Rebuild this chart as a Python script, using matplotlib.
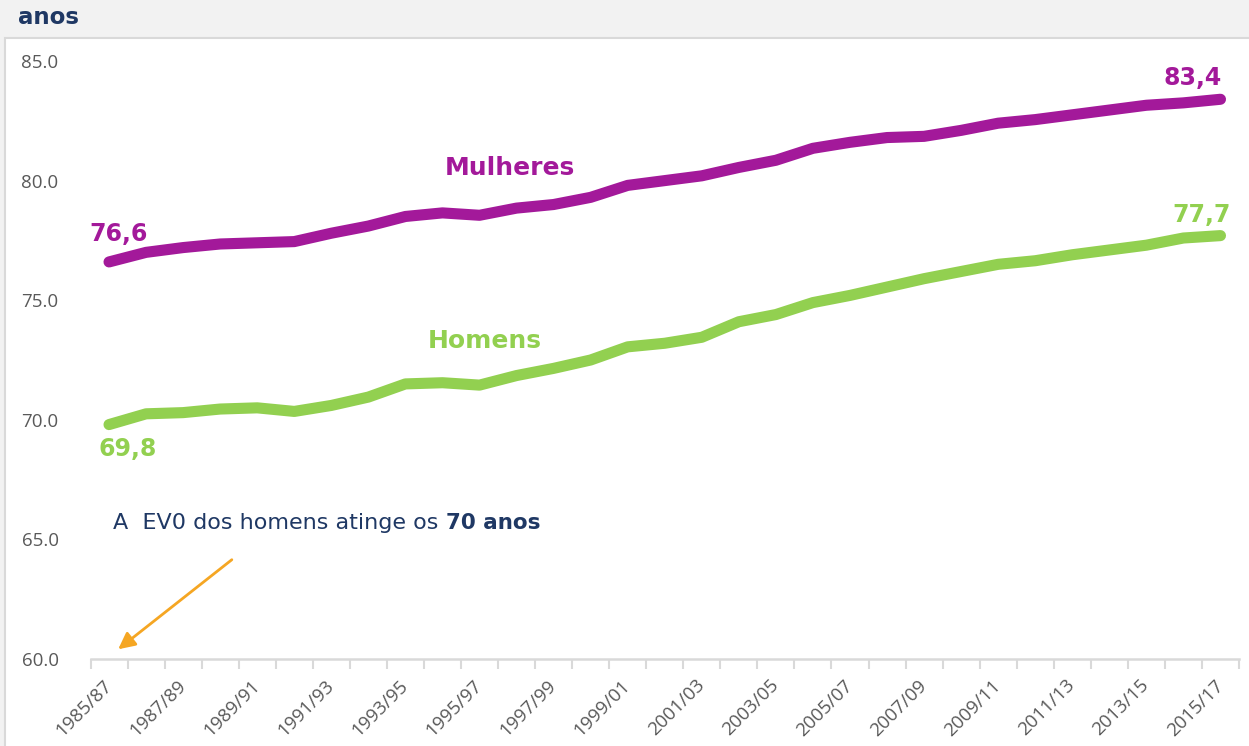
import matplotlib
matplotlib.use("Agg")
import matplotlib.pyplot as plt
from matplotlib.patches import Rectangle
import numpy as np

periods = ["1985/87", "1986/88", "1987/89", "1988/90", "1989/91", "1990/92", "1991/93",
           "1992/94", "1993/95", "1994/96", "1995/97", "1996/98", "1997/99", "1998/00",
           "1999/01", "2000/02", "2001/03", "2002/04", "2003/05", "2004/06", "2005/07",
           "2006/08", "2007/09", "2008/10", "2009/11", "2010/12", "2011/13", "2012/14",
           "2013/15", "2014/16", "2015/17"]
mulheres = [76.6, 77.0, 77.2, 77.35, 77.4, 77.45, 77.8, 78.1, 78.5, 78.65, 78.55,
            78.85, 79.0, 79.3, 79.8, 80.0, 80.2, 80.55, 80.85, 81.35, 81.6, 81.8,
            81.85, 82.1, 82.4, 82.55, 82.75, 82.95, 83.15, 83.25, 83.4]
homens = [69.8, 70.25, 70.3, 70.45, 70.5, 70.35, 70.6, 70.95, 71.5, 71.55, 71.45,
          71.85, 72.15, 72.5, 73.05, 73.2, 73.45, 74.1, 74.4, 74.9, 75.2, 75.55,
          75.9, 76.2, 76.5, 76.65, 76.9, 77.1, 77.3, 77.6, 77.7]
yticks = [60.0, 65.0, 70.0, 75.0, 80.0, 85.0]

W, H = 1249, 746
fig = plt.figure(figsize=(W / 100, H / 100), dpi=100, facecolor="#F2F2F2")

def fx(px):
    return px / W

def fy(py):
    return 1 - py / H

# white panel
fig.patches.append(Rectangle((fx(5), -0.01), 1, fy(38) + 0.01, transform=fig.transFigure,
                             facecolor="white", edgecolor="#D9D9D9", linewidth=1.5,
                             zorder=-5))

ax = fig.add_axes([fx(90.5), 1 - 659 / H, (1239 - 90.5) / W, (659 - 61) / H])
ax.set_facecolor("none")

x = np.arange(len(periods))
purple = "#A3199A"
green = "#92D050"
ax.plot(x, mulheres, color=purple, lw=8, solid_capstyle="round",
        solid_joinstyle="round", clip_on=False, zorder=3)
ax.plot(x, homens, color=green, lw=8, solid_capstyle="round",
        solid_joinstyle="round", clip_on=False, zorder=3)

ax.set_xlim(-0.5, len(periods) - 0.5)
ax.set_ylim(60, 85)

for s in ["top", "right", "left"]:
    ax.spines[s].set_visible(False)
ax.spines["bottom"].set_color("#D9D9D9")
ax.spines["bottom"].set_linewidth(1.8)

ax.set_xticks(x[::2])
ax.set_xticklabels(periods[::2], rotation=45, ha="right", va="center",
                   rotation_mode="anchor", fontsize=13.5, color="#595959",
                   family="Open Sans")
ax.set_xticks(np.arange(-0.5, len(periods), 1), minor=True)
ax.tick_params(axis="x", which="major", length=0, pad=17)
ax.tick_params(axis="x", which="minor", length=7, width=1.5, color="#D9D9D9")

ax.set_yticks(yticks)
ax.set_yticklabels([f"{v:.1f}" for v in yticks], fontsize=13.5, color="#595959",
                   family="Open Sans")
ax.tick_params(axis="y", length=0, pad=23)

# title
fig.text(fx(18), fy(17), "anos", fontsize=16.5, fontweight="bold", color="#1F3864",
         ha="left", va="center", family="DejaVu Sans")

# series labels
fig.text(fx(510), fy(168), "Mulheres", fontsize=18, fontweight="bold", color=purple,
         ha="center", va="center", family="DejaVu Sans")
fig.text(fx(485), fy(341), "Homens", fontsize=18, fontweight="bold", color=green,
         ha="center", va="center", family="DejaVu Sans")

# value labels
lbl = dict(fontsize=17, fontweight="bold", ha="center", va="center",
           family="DejaVu Sans", annotation_clip=False, textcoords="offset pixels")
ax.annotate(f"{mulheres[0]:.1f}".replace(".", ","), (x[0], mulheres[0]),
            xytext=(10, 28), color=purple, **lbl)
ax.annotate(f"{mulheres[-1]:.1f}".replace(".", ","), (x[-1], mulheres[-1]),
            xytext=(-28, 21), color=purple, **lbl)
ax.annotate(f"{homens[0]:.1f}".replace(".", ","), (x[0], homens[0]),
            xytext=(19, -24), color=green, **lbl)
ax.annotate(f"{homens[-1]:.1f}".replace(".", ","), (x[-1], homens[-1]),
            xytext=(-19, 21), color=green, **lbl)

# annotation text
navy = "#1F3864"
t1 = fig.text(fx(113), fy(523), "A  EV0 dos homens atinge os ", fontsize=16,
              color=navy, ha="left", va="center", family="DejaVu Sans")
fig.canvas.draw()
bb = t1.get_window_extent(renderer=fig.canvas.get_renderer())
fig.text(bb.x1 / W, fy(523), "70 anos", fontsize=15.5, fontweight="bold",
         color=navy, ha="left", va="center", family="DejaVu Sans")

# arrow
ax.annotate("", xy=(fx(116), fy(651)), xycoords="figure fraction",
            xytext=(fx(234), fy(558)), textcoords="figure fraction",
            arrowprops=dict(arrowstyle="-|>,head_length=1.0,head_width=0.5",
                            color="#F5A623", lw=2), annotation_clip=False)

fig.savefig("out.png", dpi=100, facecolor=fig.get_facecolor())
